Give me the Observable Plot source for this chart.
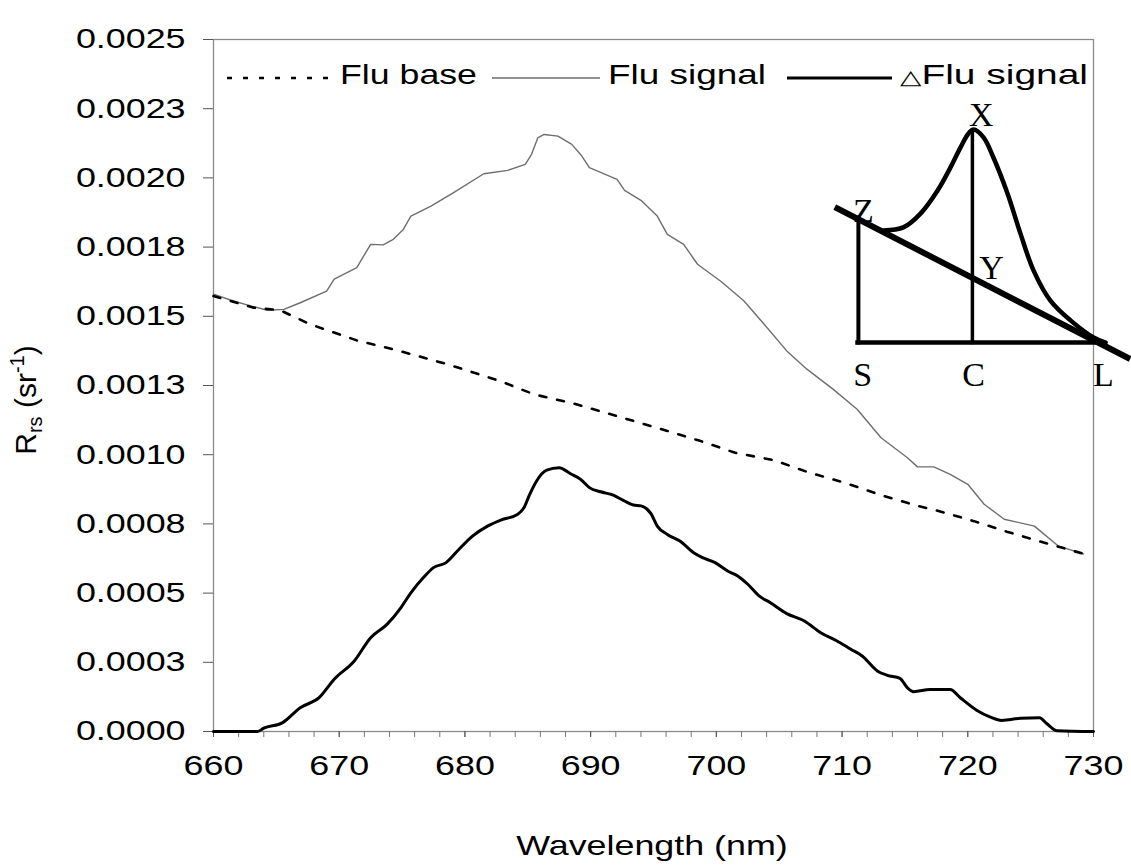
<!DOCTYPE html>
<html><head><meta charset="utf-8">
<script src="https://cdn.jsdelivr.net/npm/d3@7"></script>
<script src="https://cdn.jsdelivr.net/npm/@observablehq/plot@0.6"></script>
<style>
html,body{margin:0;padding:0;background:#fff;}
#wrap{position:relative;width:1131px;height:865px;overflow:hidden;background:#fff;}
#wrap svg{position:absolute;left:0;top:0;}
</style></head><body><div id="wrap"></div>
<script>
// ---------- data ----------
const baseWavelength = [660, 663.2, 665.3, 667.7, 671.4, 674.3, 678.6, 682.8, 685.5, 688.7, 691.6, 696.1, 698.7, 701.5, 704.6, 707.4, 710.2, 713.1, 716, 717.5, 720.5, 723.1, 726.1, 729.2];
const baseRrs = [0.001573, 0.001531, 0.001522, 0.001471, 0.001413, 0.001381, 0.001327, 0.001266, 0.001218, 0.001184, 0.001146, 0.001086, 0.00105, 0.001007, 0.00098, 0.000935, 0.000899, 0.000854, 0.000815, 0.000799, 0.00076, 0.000722, 0.000682, 0.000642];

const signalWavelength = [660, 661.4, 663, 664.3, 665.6, 666.9, 669, 669.6, 671.4, 672.5, 673.5, 674.3, 675.1, 675.7, 677.3, 679.1, 681.5, 683.4, 684.8, 685.3, 685.8, 686.3, 687.4, 688.5, 689.3, 689.9, 692.1, 692.7, 694, 695.3, 696.1, 697.4, 698.5, 700.4, 702.2, 703.8, 705.6, 707.2, 709.3, 711.2, 713.1, 715.2, 716, 717.3, 718.6, 720, 721.3, 722.9, 725.3, 727.2, 729.2];
const signalRrs = [0.00158, 0.001558, 0.001537, 0.001522, 0.001525, 0.001549, 0.001591, 0.001634, 0.001676, 0.00176, 0.001758, 0.001778, 0.001814, 0.001862, 0.001898, 0.001947, 0.002015, 0.002027, 0.002049, 0.002085, 0.002145, 0.002157, 0.002151, 0.002121, 0.002079, 0.002037, 0.001995, 0.001955, 0.001919, 0.001862, 0.001796, 0.00176, 0.001688, 0.001625, 0.001555, 0.001471, 0.001375, 0.001309, 0.001236, 0.001164, 0.001061, 0.000989, 0.000956, 0.000956, 0.000929, 0.000893, 0.000821, 0.000767, 0.000742, 0.00067, 0.000642];

const deltaWavelength = [660, 663.5, 664, 665.5, 666.9, 668.4, 669.6, 671.2, 672.5, 673.8, 674.9, 675.7, 676.7, 677.5, 678.5, 679.4, 680.6, 681.8, 682.8, 684.2, 684.7, 685.1, 685.7, 686.5, 687.5, 688.4, 689.2, 689.9, 690.8, 691.8, 692.6, 693.4, 694, 694.8, 695.3, 696.1, 697.1, 698.2, 698.9, 699.9, 700.9, 701.7, 702.5, 703.4, 704.3, 705.6, 707, 708.3, 709.6, 710.7, 711.6, 712.8, 713.6, 714.6, 715.2, 715.7, 717, 718.6, 719.4, 720.7, 721.8, 722.7, 724.2, 725.7, 726.3, 727.1, 730];
const deltaRrs = [0, 0, 0.000012, 0.000032, 0.000086, 0.000122, 0.000189, 0.000255, 0.000339, 0.000387, 0.000447, 0.000501, 0.000556, 0.000592, 0.00061, 0.000652, 0.000706, 0.000742, 0.000763, 0.000785, 0.000809, 0.000851, 0.000905, 0.000944, 0.000953, 0.000931, 0.000911, 0.000881, 0.000866, 0.000854, 0.000835, 0.000818, 0.000815, 0.000787, 0.000742, 0.000712, 0.000688, 0.000646, 0.000628, 0.00061, 0.00058, 0.000562, 0.000532, 0.00049, 0.000465, 0.000426, 0.000399, 0.000357, 0.000327, 0.000297, 0.000273, 0.000219, 0.000203, 0.000192, 0.000158, 0.000144, 0.000152, 0.000152, 0.000122, 0.000077, 0.000052, 0.00004, 0.000048, 0.00005, 0.000028, 0.000003, 0];

const yTicks = [0, 0.00025, 0.0005, 0.00075, 0.001, 0.00125, 0.0015, 0.00175, 0.002, 0.00225, 0.0025];
const yTickLabels = ["0.0000", "0.0003", "0.0005", "0.0008", "0.0010", "0.0013", "0.0015", "0.0018", "0.0020", "0.0023", "0.0025"];
const xTicks = [660, 670, 680, 690, 700, 710, 720, 730];
const xTickLabels = ["660", "670", "680", "690", "700", "710", "720", "730"];
const xMinorTicks = [660, 662, 664, 666, 668, 670, 672, 674, 676, 678, 680, 682, 684, 686, 688, 690, 692, 694, 696, 698, 700, 702, 704, 706, 708, 710, 712, 714, 716, 718, 720, 722, 724, 726, 728, 730];

const legendLabels = ["Flu base", "Flu signal", "Flu signal"];
const xTitle = "Wavelength (nm)";

// inset schematic (abstract 0-100 units)
const insetCurveX = [17.7, 24.3, 30, 35.7, 40, 43.3, 46, 47.7, 51, 54.3, 59, 63.3, 67.7, 73.3, 80, 87.7, 91.7];
const insetCurveY = [56.7, 57.7, 62.3, 70, 77.7, 84.3, 89, 90.3, 87.7, 81, 69, 55.7, 43.3, 33.3, 26.7, 21, 19.3];
const insetSegX1 = [2.3, 9, 9.3, 47.3];
const insetSegY1 = [64, 19.3, 61, 90];
const insetSegX2 = [99, 90.5, 9.3, 47.3];
const insetSegY2 = [14.3, 19.3, 19.3, 19.3];
const insetSegW = [6, 4.5, 4, 3.5];
const insetLabels = ["Z", "X", "Y", "S", "C", "L"];
const insetLabelX = [11, 50.3, 53.7, 10.7, 47.7, 91];
const insetLabelY = [63, 95, 44, 8.5, 8.5, 8.5];

// ---------- build ----------
const STRETCH = 1.28;
const base = baseWavelength.map((nm, i) => ({nm, v: baseRrs[i]}));
const signal = signalWavelength.map((nm, i) => ({nm, v: signalRrs[i]}));
const delta = deltaWavelength.map((nm, i) => ({nm, v: deltaRrs[i]}));

const wrap = document.getElementById("wrap");

const main = Plot.plot({
  width: 1131, height: 865,
  marginLeft: 213, marginRight: 38, marginTop: 39, marginBottom: 134,
  style: {fontFamily: "'Liberation Sans', Arial, sans-serif", background: "transparent", color: "#000"},
  x: {domain: [660, 730]},
  y: {domain: [0, 0.0025]},
  marks: [
    Plot.frame({stroke: "#8a8a8a", strokeWidth: 1.3}),
    Plot.axisY({ticks: yTicks, tickFormat: d => yTickLabels[yTicks.indexOf(d)], tickSize: 10, tickPadding: 18, fontSize: 28, label: null, stroke: "#555"}),
    Plot.axisX({ticks: xMinorTicks, tickFormat: () => "", tickSize: 6, label: null, stroke: "#777"}),
    Plot.axisX({ticks: xTicks, tickFormat: d => xTickLabels[xTicks.indexOf(d)], tickSize: 6, tickPadding: 18, fontSize: 28, label: null, stroke: "#555"}),
    Plot.line(signal, {x: "nm", y: "v", stroke: "#6e6e6e", strokeWidth: 1.4}),
    Plot.line(base, {x: "nm", y: "v", stroke: "#000", strokeWidth: 2.6, strokeDasharray: "7,11"}),
    Plot.line(delta, {x: "nm", y: "v", stroke: "#000", strokeWidth: 3, curve: "monotone-x"})
  ]
});
wrap.appendChild(main);

function stretchText(root, k) {
  root.querySelectorAll("text").forEach(t => {
    const len = t.getComputedTextLength();
    if (len > 0) { t.setAttribute("textLength", len * k); t.setAttribute("lengthAdjust", "spacingAndGlyphs"); }
  });
}
stretchText(main, STRETCH);

const svg = d3.select(main);
const FONT = "'Liberation Sans', Arial, sans-serif";

// legend
const legend = svg.append("g").attr("font-family", FONT).attr("font-size", 28).attr("text-anchor", "start");
const legSamples = [
  {x1: 227, x2: 330, stroke: "#000", w: 2.6, dash: "5,11"},
  {x1: 492, x2: 600, stroke: "#6e6e6e", w: 1.4, dash: null},
  {x1: 787, x2: 892, stroke: "#000", w: 3, dash: null}
];
const legY = 78;
legSamples.forEach(s => {
  const l = legend.append("line").attr("x1", s.x1).attr("x2", s.x2).attr("y1", legY).attr("y2", legY)
    .attr("stroke", s.stroke).attr("stroke-width", s.w);
  if (s.dash) l.attr("stroke-dasharray", s.dash);
});
const legTextX = [340, 608, 900];
const legTextW = [137, 158, 188];
legendLabels.forEach((lab, i) => {
  const t = legend.append("text").attr("x", legTextX[i]).attr("y", 84).attr("text-anchor", "start");
  if (i === 2) {
    t.append("tspan").attr("font-family", "'DejaVu Sans', sans-serif").attr("font-size", 20).text("\u25B3");
  }
  t.append("tspan").text(lab);
  t.attr("textLength", legTextW[i]).attr("lengthAdjust", "spacingAndGlyphs");
});

// x title
const xt = svg.append("text").attr("x", 652).attr("y", 855).attr("text-anchor", "middle")
  .attr("font-family", FONT).attr("font-size", 28).text(xTitle);
xt.attr("textLength", xt.node().getComputedTextLength() * STRETCH).attr("lengthAdjust", "spacingAndGlyphs");

// y title
const yt = svg.append("text").attr("transform", "translate(36,400) rotate(-90)").attr("text-anchor", "middle")
  .attr("font-family", FONT).attr("font-size", 30);
yt.append("tspan").text("R");
yt.append("tspan").attr("font-size", 20).attr("dy", 6).text("rs");
yt.append("tspan").attr("font-size", 30).attr("dy", -6).text(" (sr");
yt.append("tspan").attr("font-size", 20).attr("dy", -12).text("-1");
yt.append("tspan").attr("font-size", 30).attr("dy", 12).text(")");

// inset
const insetCurve = insetCurveX.map((x, i) => ({x, y: insetCurveY[i]}));
const insetSegs = insetSegX1.map((x1, i) => ({x1, y1: insetSegY1[i], x2: insetSegX2[i], y2: insetSegY2[i], w: insetSegW[i]}));
const insetText = insetLabels.map((t, i) => ({t, x: insetLabelX[i], y: insetLabelY[i]}));
const inset = Plot.plot({
  width: 300, height: 300, margin: 0,
  style: {background: "transparent", overflow: "visible"},
  x: {domain: [0, 100], axis: null},
  y: {domain: [0, 100], axis: null},
  marks: [
    Plot.link(insetSegs, {x1: "x1", y1: "y1", x2: "x2", y2: "y2", stroke: "#000", strokeWidth: "w", strokeLinecap: "square"}),
    Plot.line(insetCurve, {x: "x", y: "y", stroke: "#000", strokeWidth: 4.5, curve: "catmull-rom"}),
    Plot.text(insetText, {x: "x", y: "y", text: "t", fontSize: 34, fontFamily: "'Liberation Serif', 'Times New Roman', serif", fill: "#000"})
  ]
});
inset.style.left = "830px";
inset.style.top = "100px";
wrap.appendChild(inset);
</script></body></html>
